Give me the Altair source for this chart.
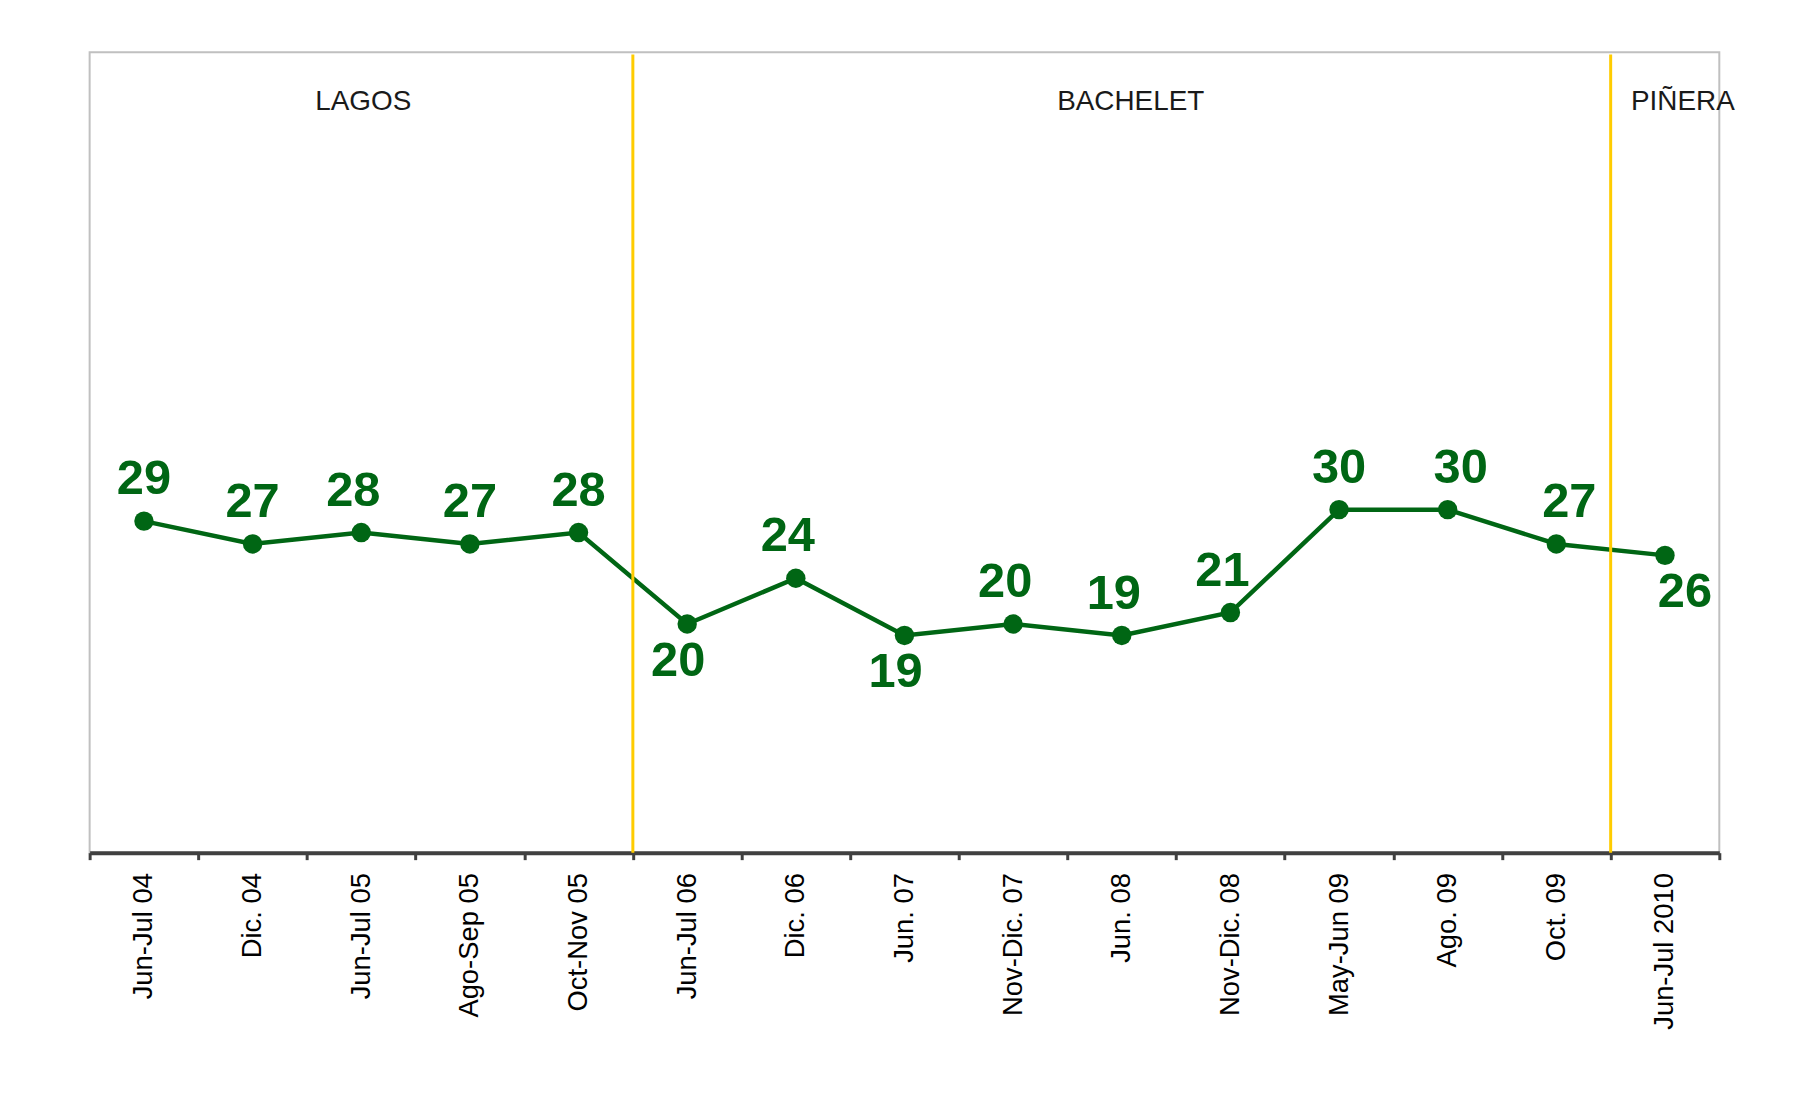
import altair as alt
import pandas as pd

categories = ["Jun-Jul 04", "Dic. 04", "Jun-Jul 05", "Ago-Sep 05", "Oct-Nov 05",
              "Jun-Jul 06", "Dic. 06", "Jun. 07", "Nov-Dic. 07", "Jun. 08",
              "Nov-Dic. 08", "May-Jun 09", "Ago. 09", "Oct. 09", "Jun-Jul 2010"]
values = [29, 27, 28, 27, 28, 20, 24, 19, 20, 19, 21, 30, 30, 27, 26]
label_side = ["above", "above", "above_left", "above", "above",
              "below", "above_left", "below", "above_left", "above_left",
              "above_left", "above", "above_right", "above_right", "below_right"]

periods = ["LAGOS", "BACHELET", "PIÑERA"]
period_anchor = ["Jun-Jul 05", "Jun. 08", "Jun-Jul 2010"]
period_start = ["Jun-Jul 06", "Jun-Jul 2010"]

GREEN = "#006614"
FONT = "Liberation Sans"

df = pd.DataFrame({"cat": categories, "value": values, "side": label_side})
df_periods = pd.DataFrame({"name": periods, "cat": period_anchor})
df_starts = pd.DataFrame({"cat": period_start})

xscale = alt.Scale(type="band", domain=categories, paddingInner=0, paddingOuter=0)
yscale = alt.Scale(domain=[0, 70], nice=False, zero=True)

xaxis = alt.Axis(title=None, labelAngle=270, labelAlign="right",
                 labelBaseline="middle", labelFont=FONT,
                 labelFontSize=27.5, labelColor="black",
                 labelPadding=13, tickBand="extent", tickSize=7,
                 tickWidth=3, tickColor="#404040",
                 domainColor="#404040", domainWidth=4, grid=False)
x_main = alt.X("cat:N", scale=xscale, axis=xaxis)
y_main = alt.Y("value:Q", scale=yscale, axis=None)

base = alt.Chart(df)

line = base.mark_line(color=GREEN, strokeWidth=4.5).encode(x=x_main, y=y_main)
points = base.mark_circle(color=GREEN, size=380, opacity=1).encode(x=x_main, y=y_main)


def value_labels(side, dx, dy):
    return base.transform_filter(alt.datum.side == side).mark_text(
        font=FONT, fontSize=49, fontWeight="bold", color=GREEN,
        baseline="alphabetic", dx=dx, dy=dy).encode(
        x=x_main, y=y_main, text="value:Q")


lbls = [
    value_labels("above", 0, -27),
    value_labels("above_left", -8, -27),
    value_labels("above_right", 13, -27),
    value_labels("below", -9, 52),
    value_labels("below_right", 20, 52),
]

rules = alt.Chart(df_starts).mark_rule(color="#FFCC00", strokeWidth=3).encode(
    x=alt.X("cat:N", scale=xscale, axis=xaxis, bandPosition=0),
    y=alt.YDatum(0, type="quantitative", scale=yscale, axis=None),
    y2=alt.Y2Datum(69.8))


def period_label(name, dx):
    return alt.Chart(df_periods).transform_filter(
        alt.datum.name == name).mark_text(
        font=FONT, fontSize=28, color="#1a1a1a",
        baseline="alphabetic", dx=dx, y=58).encode(
        x=x_main, text="name:N")


ptexts = [period_label("LAGOS", 2), period_label("BACHELET", 9),
          period_label("PIÑERA", 18)]

chart = alt.layer(
    line, rules, points, *lbls, *ptexts
).properties(
    width=1637, height=804,
    autosize=alt.AutoSizeParams(type="none"),
    padding={"left": 82, "top": 42, "right": 68, "bottom": 257},
    background="white",
).configure_view(
    stroke="#c0c0c0", strokeWidth=2
)

chart.save("out.html", embed_options={"renderer": "svg", "actions": False})
